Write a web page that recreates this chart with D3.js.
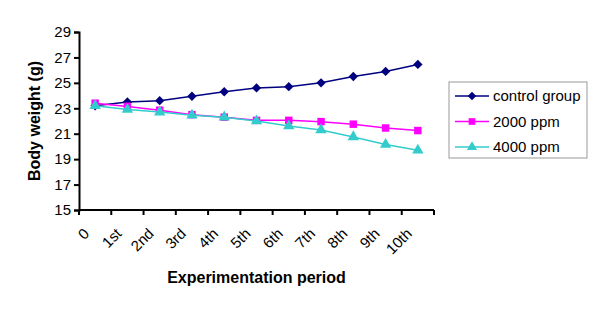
<!DOCTYPE html>
<html>
<head>
<meta charset="utf-8">
<script src="https://cdn.jsdelivr.net/npm/d3@7"></script>
<style>
  body { margin: 0; background: #fff; }
  text { font-family: "Liberation Sans", Arial, sans-serif; }
</style>
</head>
<body>
<div id="chart"></div>
<script>
const periods = ["0", "1st", "2nd", "3rd", "4th", "5th", "6th", "7th", "8th", "9th", "10th"]
const control = [23.2, 23.5, 23.6, 23.95, 24.3, 24.6, 24.7, 25.0, 25.5, 25.9, 26.45]
const ppm2000 = [23.4, 23.15, 22.85, 22.5, 22.3, 22.05, 22.05, 21.95, 21.75, 21.45, 21.25]
const ppm4000 = [23.2, 22.9, 22.7, 22.45, 22.3, 22.0, 21.6, 21.3, 20.75, 20.15, 19.7]
const yTicks = [15, 17, 19, 21, 23, 25, 27, 29]

// diamond = square turned 45 degrees
const diamond = { draw(ctx, size) { const r = Math.sqrt(size) / 2 * 1.35; ctx.moveTo(0, -r); ctx.lineTo(r, 0); ctx.lineTo(0, r); ctx.lineTo(-r, 0); ctx.closePath() } }

const series = [
    { name: "control group", values: control, color: "#000080", symbol: diamond, size: 48 },
    { name: "2000 ppm", values: ppm2000, color: "#FF00FF", symbol: d3.symbolSquare, size: 56 },
    { name: "4000 ppm", values: ppm4000, color: "#33CCCC", symbol: d3.symbolTriangle, size: 56 }
]

const width = 599, height = 311
const margin = { top: 32, right: 165, bottom: 101, left: 79 }

const svg = d3.select("#chart").append("svg")
    .attr("width", width)
    .attr("height", height)

const x = d3.scaleBand()
    .domain(periods)
    .range([margin.left, width - margin.right])

const y = d3.scaleLinear()
    .domain([15, 29])
    .range([height - margin.bottom, margin.top])

// y axis
const yAxis = svg.append("g")
    .attr("transform", `translate(${margin.left},0)`)
    .call(d3.axisLeft(y).tickValues(yTicks).tickSize(5).tickPadding(3))
yAxis.select(".domain").attr("stroke-width", 2)
yAxis.selectAll(".tick line").attr("stroke-width", 2)
yAxis.selectAll("text").attr("font-size", 15).attr("fill", "#000").attr("font-family", "Liberation Sans, Arial, sans-serif")

// x axis, ticks at band edges
const xAxis = svg.append("g")
    .attr("transform", `translate(0,${height - margin.bottom})`)
xAxis.append("line")
    .attr("x1", margin.left).attr("x2", width - margin.right)
    .attr("stroke", "#000").attr("stroke-width", 2)
xAxis.selectAll("line.tk")
    .data(periods.concat(["end"]))
    .join("line")
    .attr("class", "tk")
    .attr("x1", (d, i) => margin.left + i * x.step())
    .attr("x2", (d, i) => margin.left + i * x.step())
    .attr("y1", 0).attr("y2", 5)
    .attr("stroke", "#000").attr("stroke-width", 2)
xAxis.selectAll("text")
    .data(periods)
    .join("text")
    .attr("transform", d => `translate(${x(d) + x.bandwidth() / 2 - 12.5},${17}) rotate(-45)`)
    .attr("text-anchor", "end")
    .attr("dy", "0.71em")
    .attr("font-size", 15)
    .text(d => d)

// lines and markers
const line = d3.line()
    .x((d, i) => x(periods[i]) + x.bandwidth() / 2)
    .y(d => y(d))

series.forEach(s => {
    svg.append("path")
        .datum(s.values)
        .attr("fill", "none")
        .attr("stroke", s.color)
        .attr("stroke-width", 1.5)
        .attr("d", line)
    svg.append("g")
        .selectAll("path")
        .data(s.values)
        .join("path")
        .attr("transform", (d, i) => `translate(${x(periods[i]) + x.bandwidth() / 2},${y(d)})`)
        .attr("d", d3.symbol(s.symbol, s.size))
        .attr("fill", s.color)
})

// axis titles
svg.append("text")
    .attr("transform", `translate(40,${(y(15) + y(29)) / 2}) rotate(-90)`)
    .attr("text-anchor", "middle")
    .attr("font-size", 16)
    .attr("font-weight", "bold")
    .text("Body weight (g)")

svg.append("text")
    .attr("x", (margin.left + width - margin.right) / 2)
    .attr("y", 283)
    .attr("text-anchor", "middle")
    .attr("font-size", 16)
    .attr("font-weight", "bold")
    .text("Experimentation period")

// legend
const legend = svg.append("g").attr("transform", "translate(449,82)")
legend.append("rect")
    .attr("width", 138).attr("height", 76)
    .attr("fill", "#fff").attr("stroke", "#999")
series.forEach((s, i) => {
    const g = legend.append("g").attr("transform", `translate(0,${14 + i * 25.5})`)
    g.append("line")
        .attr("x1", 6).attr("x2", 40)
        .attr("stroke", s.color).attr("stroke-width", 1.5)
    g.append("path")
        .attr("transform", "translate(23,0)")
        .attr("d", d3.symbol(s.symbol, s.size * 0.8))
        .attr("fill", s.color)
    g.append("text")
        .attr("x", 44).attr("dy", "0.35em")
        .attr("font-size", 15)
        .text(s.name)
})
</script>
</body>
</html>
